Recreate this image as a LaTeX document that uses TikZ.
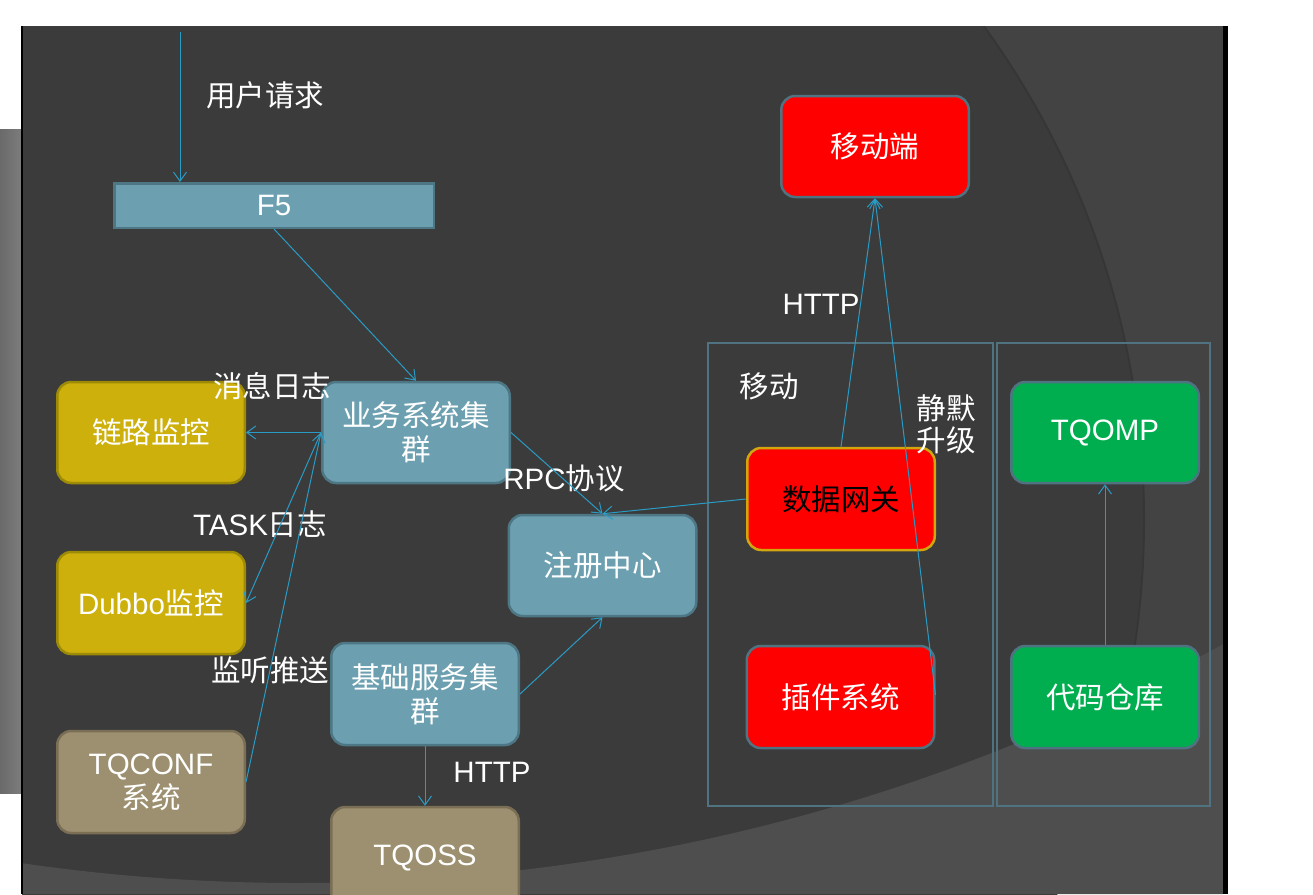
\documentclass[tikz,border=0pt]{standalone}
\usepackage{fontspec}
\setmainfont{Liberation Sans}
\newfontfamily\cjk{Noto Sans CJK SC}
\usetikzlibrary{arrows.meta}
\definecolor{slidebg}{HTML}{3B3B3B}
\definecolor{outerB}{HTML}{434343}
\definecolor{lightA}{HTML}{4E4E4E}
\definecolor{arcshade}{HTML}{363636}
\definecolor{barbgL}{HTML}{6A6A6A}
\definecolor{barbgR}{HTML}{7C7C7C}
\definecolor{tealf}{HTML}{6CA0B1}
\definecolor{tealb}{HTML}{4E7785}
\definecolor{goldf}{HTML}{CDB00B}
\definecolor{goldb}{HTML}{9D8A07}
\definecolor{khakif}{HTML}{9D9070}
\definecolor{khakib}{HTML}{7A6E55}
\definecolor{redf}{HTML}{FF0000}
\definecolor{gwb}{HTML}{D2A70E}
\definecolor{greenf}{HTML}{00AE50}
\definecolor{connc}{HTML}{2A9BC4}
\definecolor{frameb}{HTML}{4F7381}
\tikzset{
  txt/.style={font=\fontsize{29.5}{34}\selectfont},
  cjktxt/.style={font=\cjk\fontsize{29.5}{34}\selectfont},
  lbl/.style={text=white, inner sep=0pt, align=center},
  boxbase/.style={rounded corners=14pt, line width=2.5pt, text=white, align=center,
    inner sep=2pt, minimum width=187.5pt, minimum height=101pt},
  tealbox/.style={boxbase, fill=tealf, draw=tealb},
  goldbox/.style={boxbase, fill=goldf, draw=goldb},
  khakibox/.style={boxbase, fill=khakif, draw=khakib},
  redbox/.style={boxbase, fill=redf, draw=frameb},
  greenbox/.style={boxbase, fill=greenf, draw=frameb},
  conn/.style={draw=connc, line width=1pt, -{Straight Barb[length=9pt,width=13pt]}},
  frame/.style={draw=frameb, line width=2pt}
}
\begin{document}
\begin{tikzpicture}[x=1pt,y=-1pt]
\useasboundingbox (0,0) rectangle (1313,894);
\clip (0,0) rectangle (1313,894);
% background
\fill[white] (0,0) rectangle (1313,894);
\shade[left color=barbgL, right color=barbgR] (0,129) rectangle (21,793);
\begin{scope}
  \clip (22,26) rectangle (1223,894);
  \fill[outerB] (22,26) rectangle (1223,894);
  \fill[slidebg] (303,520) circle[radius=840];
  \draw[arcshade, line width=2pt] (303,520) circle[radius=841];
  \fill[lightA, even odd rule] (22,26) rectangle (1223,894) (298,-1025) circle[radius=1908];
\end{scope}
\fill[black] (20.5,26) rectangle (22.5,894);
\fill[black] (1223,26) rectangle (1228,894);
% frames
\draw[frame] (708,343) rectangle (993,806);
\draw[frame] (997,343) rectangle (1210,806);
% nodes
\node[tealbox, txt, rounded corners=0pt, minimum width=319.5pt, minimum height=44.5pt] (f5) at (274,205.5) {F5};
\node[redbox, cjktxt] (mob) at (875,146.5) {移动端};
\node[goldbox, cjktxt] (trace) at (151,432.5) {链路监控};
\node[tealbox, cjktxt] (biz) at (416,432.5) {业务系统集\\群};
\node[goldbox, txt, minimum height=102pt] (dubbo) at (151,603) {Dubbo{\cjk 监控}};
\node[tealbox, cjktxt] (reg) at (602.5,565.5) {注册中心};
\node[tealbox, cjktxt, minimum height=102pt] (base) at (425,694) {基础服务集\\群};
\node[khakibox, txt, minimum height=102pt] (conf) at (151,782) {TQCONF\\{\cjk 系统}};
\node[khakibox, txt, minimum height=102pt] (oss) at (425,858) {TQOSS};
\node[redbox, cjktxt, draw=gwb, text=black, minimum height=102pt] (gw) at (841,499) {数据网关};
\node[redbox, cjktxt, minimum height=102pt] (plug) at (840.5,697) {插件系统};
\node[greenbox, txt] (omp) at (1105,432.5) {TQOMP};
\node[greenbox, cjktxt, minimum height=102pt] (repo) at (1105,697) {代码仓库};
% labels
\node[lbl, cjktxt] (l1) at (265,95) {用户请求};
\node[lbl, txt] (l2) at (821,304) {HTTP};
\node[lbl, cjktxt] (l3) at (769,386) {移动};
\node[lbl, cjktxt, font=\cjk\fontsize{29.5}{32}\selectfont] (l4) at (946,424) {静默\\升级};
\node[lbl, cjktxt] (l5) at (272,386) {消息日志};
\node[lbl, txt] (l6) at (564,478) {RPC{\cjk 协议}};
\node[lbl, txt] (l7) at (260,524) {TASK{\cjk 日志}};
\node[lbl, cjktxt] (l8) at (270,670) {监听推送};
\node[lbl, txt] (l9) at (492,772) {HTTP};
% connectors
\coordinate (req) at (180,32);
\draw[conn] (req) -- (req |- f5.north);
\draw[conn] (f5.south) -- (biz.north);
\draw[conn] (biz.west) -- (trace.east);
\draw[conn] (biz.west) -- (dubbo.east);
\draw[conn] (conf.east) -- (biz.west);
\draw[conn] (biz.east) -- (reg.north);
\draw[conn] (gw.west) -- (reg.north);
\draw[conn] (base.east) -- (reg.south);
\draw[conn] (base.south) -- (oss.north);
\draw[conn] (gw.north) -- (mob.south);
\draw[conn] ([yshift=2pt]plug.east) -- (mob.south);
\draw[conn] (repo.north) -- (omp.south);
\end{tikzpicture}
\end{document}
